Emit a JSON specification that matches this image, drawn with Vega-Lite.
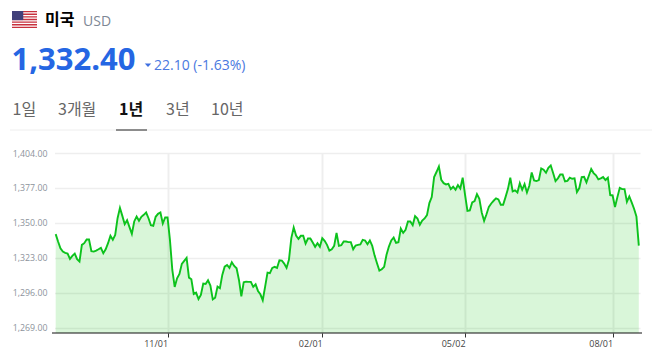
{"$schema":"https://vega.github.io/schema/vega-lite/v6.json","width":590,"height":180,"autosize":"none","padding":{"left":52,"top":153,"right":10,"bottom":22},"background":"white","config":{"view":{"stroke":null}},
"data":{"values":[
{"d":"2023-08-21","v":1341.3},{"d":"2023-08-22","v":1335.6},{"d":"2023-08-23","v":1330.4},{"d":"2023-08-24","v":1327.8},{"d":"2023-08-25","v":1326.8},{"d":"2023-08-28","v":1326.3},{"d":"2023-08-29","v":1322.2},{"d":"2023-08-30","v":1324.5},{"d":"2023-08-31","v":1326.3},{"d":"2023-09-01","v":1321.9},
{"d":"2023-09-04","v":1320.1},{"d":"2023-09-05","v":1333.0},{"d":"2023-09-06","v":1334.3},{"d":"2023-09-07","v":1337.1},{"d":"2023-09-08","v":1337.1},{"d":"2023-09-11","v":1328.1},{"d":"2023-09-12","v":1327.8},{"d":"2023-09-13","v":1328.6},{"d":"2023-09-14","v":1329.6},{"d":"2023-09-15","v":1330.7},
{"d":"2023-09-18","v":1326.5},{"d":"2023-09-19","v":1329.6},{"d":"2023-09-20","v":1334.3},{"d":"2023-09-21","v":1340.0},{"d":"2023-09-22","v":1336.9},{"d":"2023-09-25","v":1340.7},{"d":"2023-09-26","v":1353.6},{"d":"2023-09-27","v":1361.6},{"d":"2023-10-04","v":1355.4},{"d":"2023-10-05","v":1349.0},
{"d":"2023-10-06","v":1352.1},{"d":"2023-10-10","v":1346.7},{"d":"2023-10-11","v":1341.5},{"d":"2023-10-12","v":1351.1},{"d":"2023-10-13","v":1354.9},{"d":"2023-10-16","v":1351.6},{"d":"2023-10-17","v":1354.7},{"d":"2023-10-18","v":1356.2},{"d":"2023-10-19","v":1358.0},{"d":"2023-10-20","v":1353.6},
{"d":"2023-10-23","v":1348.2},{"d":"2023-10-24","v":1347.7},{"d":"2023-10-25","v":1354.7},{"d":"2023-10-26","v":1357.0},{"d":"2023-10-27","v":1358.0},{"d":"2023-10-30","v":1349.5},{"d":"2023-10-31","v":1354.2},{"d":"2023-11-01","v":1354.2},{"d":"2023-11-02","v":1336.9},{"d":"2023-11-03","v":1313.6},
{"d":"2023-11-06","v":1300.5},{"d":"2023-11-07","v":1307.2},{"d":"2023-11-08","v":1310.5},{"d":"2023-11-09","v":1318.3},{"d":"2023-11-10","v":1320.6},{"d":"2023-11-13","v":1322.9},{"d":"2023-11-14","v":1307.7},{"d":"2023-11-15","v":1306.4},{"d":"2023-11-16","v":1295.1},{"d":"2023-11-17","v":1296.1},
{"d":"2023-11-20","v":1291.2},{"d":"2023-11-21","v":1294.3},{"d":"2023-11-22","v":1303.1},{"d":"2023-11-23","v":1302.8},{"d":"2023-11-24","v":1305.6},{"d":"2023-11-27","v":1301.5},{"d":"2023-11-28","v":1290.9},{"d":"2023-11-29","v":1292.2},{"d":"2023-11-30","v":1300.7},{"d":"2023-12-01","v":1299.5},
{"d":"2023-12-04","v":1309.8},{"d":"2023-12-05","v":1316.2},{"d":"2023-12-06","v":1317.5},{"d":"2023-12-07","v":1315.2},{"d":"2023-12-08","v":1319.6},{"d":"2023-12-11","v":1316.7},{"d":"2023-12-12","v":1314.9},{"d":"2023-12-13","v":1305.9},{"d":"2023-12-14","v":1293.3},{"d":"2023-12-15","v":1304.1},
{"d":"2023-12-18","v":1304.6},{"d":"2023-12-19","v":1304.4},{"d":"2023-12-20","v":1304.4},{"d":"2023-12-21","v":1300.5},{"d":"2023-12-22","v":1302.5},{"d":"2023-12-26","v":1297.4},{"d":"2023-12-27","v":1294.8},{"d":"2023-12-28","v":1290.2},{"d":"2023-12-29","v":1300.7},{"d":"2024-01-01","v":1311.6},
{"d":"2024-01-02","v":1311.1},{"d":"2024-01-03","v":1315.2},{"d":"2024-01-04","v":1316.0},{"d":"2024-01-05","v":1315.2},{"d":"2024-01-08","v":1321.1},{"d":"2024-01-09","v":1320.9},{"d":"2024-01-10","v":1318.5},{"d":"2024-01-11","v":1315.2},{"d":"2024-01-12","v":1321.4},{"d":"2024-01-15","v":1338.2},
{"d":"2024-01-16","v":1346.4},{"d":"2024-01-17","v":1340.2},{"d":"2024-01-18","v":1337.6},{"d":"2024-01-19","v":1340.0},{"d":"2024-01-22","v":1340.0},{"d":"2024-01-23","v":1334.0},{"d":"2024-01-24","v":1337.9},{"d":"2024-01-25","v":1337.9},{"d":"2024-01-26","v":1334.8},{"d":"2024-01-29","v":1331.5},
{"d":"2024-01-30","v":1334.3},{"d":"2024-01-31","v":1331.5},{"d":"2024-02-01","v":1338.2},{"d":"2024-02-02","v":1336.1},{"d":"2024-02-05","v":1333.0},{"d":"2024-02-06","v":1328.6},{"d":"2024-02-07","v":1329.6},{"d":"2024-02-08","v":1332.2},{"d":"2024-02-13","v":1342.3},{"d":"2024-02-14","v":1332.2},
{"d":"2024-02-15","v":1332.7},{"d":"2024-02-16","v":1335.6},{"d":"2024-02-19","v":1335.6},{"d":"2024-02-20","v":1335.1},{"d":"2024-02-21","v":1335.1},{"d":"2024-02-22","v":1329.6},{"d":"2024-02-23","v":1332.5},{"d":"2024-02-26","v":1333.0},{"d":"2024-02-27","v":1333.3},{"d":"2024-02-28","v":1336.9},
{"d":"2024-02-29","v":1336.4},{"d":"2024-03-04","v":1333.5},{"d":"2024-03-05","v":1336.4},{"d":"2024-03-06","v":1332.2},{"d":"2024-03-07","v":1324.7},{"d":"2024-03-08","v":1318.8},{"d":"2024-03-11","v":1313.1},{"d":"2024-03-12","v":1314.2},{"d":"2024-03-13","v":1316.0},{"d":"2024-03-14","v":1325.3},
{"d":"2024-03-15","v":1331.7},{"d":"2024-03-18","v":1336.4},{"d":"2024-03-19","v":1338.7},{"d":"2024-03-20","v":1334.5},{"d":"2024-03-21","v":1335.1},{"d":"2024-03-22","v":1345.6},{"d":"2024-03-25","v":1342.3},{"d":"2024-03-26","v":1344.6},{"d":"2024-03-27","v":1351.1},{"d":"2024-03-28","v":1351.1},
{"d":"2024-03-29","v":1348.2},{"d":"2024-04-01","v":1355.2},{"d":"2024-04-02","v":1353.4},{"d":"2024-04-03","v":1348.5},{"d":"2024-04-04","v":1351.8},{"d":"2024-04-05","v":1353.4},{"d":"2024-04-08","v":1356.0},{"d":"2024-04-09","v":1365.3},{"d":"2024-04-11","v":1369.9},{"d":"2024-04-12","v":1385.4},
{"d":"2024-04-15","v":1389.3},{"d":"2024-04-16","v":1393.6},{"d":"2024-04-17","v":1383.3},{"d":"2024-04-18","v":1380.7},{"d":"2024-04-19","v":1379.7},{"d":"2024-04-22","v":1380.2},{"d":"2024-04-23","v":1376.1},{"d":"2024-04-24","v":1377.9},{"d":"2024-04-25","v":1375.6},{"d":"2024-04-26","v":1379.2},
{"d":"2024-04-29","v":1376.6},{"d":"2024-04-30","v":1384.9},{"d":"2024-05-02","v":1371.7},{"d":"2024-05-03","v":1359.3},{"d":"2024-05-07","v":1359.6},{"d":"2024-05-08","v":1365.8},{"d":"2024-05-09","v":1366.8},{"d":"2024-05-10","v":1372.2},{"d":"2024-05-13","v":1368.6},{"d":"2024-05-14","v":1358.0},
{"d":"2024-05-16","v":1351.6},{"d":"2024-05-17","v":1356.7},{"d":"2024-05-20","v":1362.4},{"d":"2024-05-21","v":1365.0},{"d":"2024-05-22","v":1367.1},{"d":"2024-05-23","v":1368.9},{"d":"2024-05-24","v":1368.1},{"d":"2024-05-27","v":1364.0},{"d":"2024-05-28","v":1364.0},{"d":"2024-05-29","v":1369.9},
{"d":"2024-05-30","v":1376.1},{"d":"2024-05-31","v":1384.9},{"d":"2024-06-03","v":1374.3},{"d":"2024-06-04","v":1375.1},{"d":"2024-06-05","v":1373.5},{"d":"2024-06-07","v":1380.7},{"d":"2024-06-10","v":1375.6},{"d":"2024-06-11","v":1380.0},{"d":"2024-06-12","v":1373.5},{"d":"2024-06-13","v":1378.7},
{"d":"2024-06-14","v":1389.0},{"d":"2024-06-17","v":1382.8},{"d":"2024-06-18","v":1382.3},{"d":"2024-06-19","v":1383.1},{"d":"2024-06-20","v":1392.1},{"d":"2024-06-21","v":1391.1},{"d":"2024-06-24","v":1388.7},{"d":"2024-06-25","v":1392.6},{"d":"2024-06-26","v":1394.4},{"d":"2024-06-27","v":1388.5},
{"d":"2024-06-28","v":1382.3},{"d":"2024-07-01","v":1384.4},{"d":"2024-07-02","v":1387.4},{"d":"2024-07-03","v":1387.4},{"d":"2024-07-04","v":1382.0},{"d":"2024-07-05","v":1382.5},{"d":"2024-07-08","v":1384.9},{"d":"2024-07-09","v":1384.1},{"d":"2024-07-10","v":1384.4},{"d":"2024-07-11","v":1373.8},
{"d":"2024-07-12","v":1376.9},{"d":"2024-07-15","v":1385.4},{"d":"2024-07-16","v":1385.6},{"d":"2024-07-17","v":1381.3},{"d":"2024-07-18","v":1386.4},{"d":"2024-07-19","v":1391.6},{"d":"2024-07-22","v":1388.5},{"d":"2024-07-23","v":1386.7},{"d":"2024-07-24","v":1383.6},{"d":"2024-07-25","v":1384.4},
{"d":"2024-07-26","v":1385.4},{"d":"2024-07-29","v":1383.1},{"d":"2024-07-30","v":1384.9},{"d":"2024-07-31","v":1371.5},{"d":"2024-08-01","v":1371.2},{"d":"2024-08-02","v":1362.2},{"d":"2024-08-05","v":1369.9},{"d":"2024-08-06","v":1377.1},{"d":"2024-08-07","v":1376.1},{"d":"2024-08-08","v":1376.1},
{"d":"2024-08-09","v":1366.3},{"d":"2024-08-12","v":1370.4},{"d":"2024-08-13","v":1365.8},{"d":"2024-08-14","v":1360.9},{"d":"2024-08-15","v":1354.9},{"d":"2024-08-16","v":1332.4}
]},
"encoding":{
"x":{"field":"d","type":"ordinal","title":null,"sort":null,"scale":{"type":"point","range":[2.5,588]},
"axis":{"values":["2023-11-01","2024-02-01","2024-05-02","2024-08-01"],"labelExpr":"substring(datum.value,5,7)+'/'+substring(datum.value,8,10)","labelAngle":0,"labelAlign":"right","labelBaseline":"top","labelFont":"Open Sans","labelFontSize":9,"labelColor":"#444444","labelPadding":2,"tickSize":4,"tickColor":"#333333","tickWidth":1,"domain":false,"grid":true,"gridColor":"#eeeeee","gridWidth":2,"labelOverlap":false,"labelBound":false}},
"y":{"field":"v","type":"quantitative","title":null,"scale":{"domain":[1264.9,1404],"nice":false,"zero":false},
"axis":{"values":[1269,1296,1323,1350,1377,1404],"format":",.2f","labelFont":"Open Sans","labelFontSize":8.8,"labelColor":"#8d939c","labelPadding":5,"ticks":false,"domain":false,"grid":true,"gridColor":"#eeeeee","gridWidth":1.5,"labelOverlap":false,"labelBound":false}}
},
"layer":[
{"encoding":{"y2":{"datum":1264.9}},"mark":{"type":"area","color":"#00c400","opacity":0.15}},
{"mark":{"type":"line","color":"#0cc21c","strokeWidth":1.9}},
{"data":{"values":[{}]},"encoding":{"x":{"value":0},"x2":{"value":590},"y":{"value":180}},"mark":{"type":"rule","color":"#111111","strokeWidth":1}},
{"data":{"values":[{}]},"encoding":{"x":{"value":-42},"x2":{"value":600},"y":{"value":-23}},"mark":{"type":"rule","color":"#eeeeee","strokeWidth":1}},
{"data":{"values":[{}]},"encoding":{"x":{"value":64},"x2":{"value":95},"y":{"value":-23}},"mark":{"type":"rule","color":"#222222","strokeWidth":1}},
{"data":{"values":[{}]},"encoding":{"x":null,"y":null},"mark":{"type":"point","filled":true,"x":-27.5,"y":-133.5,"size":625,"opacity":1,"color":"#c8313e","strokeWidth":0,"shape":"M-1,-.68H1V-.575H-1ZM-1,-.471H1V-.366H-1ZM-1,-.262H1V-.157H-1ZM-1,-.052H1V.052H-1ZM-1,.157H1V.262H-1ZM-1,.366H1V.471H-1ZM-1,.575H1V.68H-1Z"}},
{"data":{"values":[{}]},"encoding":{"x":null,"y":null},"mark":{"type":"point","filled":true,"x":-27.5,"y":-133.5,"size":625,"opacity":1,"color":"#41407a","strokeWidth":0,"shape":"M-1,-.68H-.1V.05H-1Z"}},
{"data":{"values":[{}]},"encoding":{"x":null,"y":null},"mark":{"type":"text","text":"미국","x":-7,"y":-128,"align":"left","baseline":"alphabetic","font":"Noto Sans CJK KR","fontWeight":"bold","fontSize":16,"color":"#000000"}},
{"data":{"values":[{}]},"encoding":{"x":null,"y":null},"mark":{"type":"text","text":"USD","x":31,"y":-127.5,"align":"left","baseline":"alphabetic","font":"Open Sans","fontSize":14,"color":"#7d8795"}},
{"data":{"values":[{}]},"encoding":{"x":null,"y":null},"mark":{"type":"text","text":"1,332.40","x":-40.5,"y":-83,"align":"left","baseline":"alphabetic","font":"Open Sans","fontWeight":"bold","fontSize":31,"color":"#2566e3"}},
{"data":{"values":[{}]},"encoding":{"x":null,"y":null},"mark":{"type":"point","filled":true,"x":96,"y":-88,"size":42,"opacity":1,"color":"#3f6fe0","strokeWidth":0,"shape":"M-1,-.5H1L0,.6Z"}},
{"data":{"values":[{}]},"encoding":{"x":null,"y":null},"mark":{"type":"text","text":"22.10 (-1.63%)","x":102,"y":-83,"align":"left","baseline":"alphabetic","font":"Open Sans","fontSize":14,"color":"#4a78e0"}},
{"data":{"values":[{}]},"encoding":{"x":null,"y":null},"mark":{"type":"text","text":"1일","x":-39.5,"y":-38,"align":"left","baseline":"alphabetic","font":"Noto Sans CJK KR","fontSize":16,"color":"#666666"}},
{"data":{"values":[{}]},"encoding":{"x":null,"y":null},"mark":{"type":"text","text":"3개월","x":6,"y":-38,"align":"left","baseline":"alphabetic","font":"Noto Sans CJK KR","fontSize":16,"color":"#666666"}},
{"data":{"values":[{}]},"encoding":{"x":null,"y":null},"mark":{"type":"text","text":"1년","x":67,"y":-38,"align":"left","baseline":"alphabetic","font":"Noto Sans CJK KR","fontWeight":"bold","fontSize":16,"color":"#111111"}},
{"data":{"values":[{}]},"encoding":{"x":null,"y":null},"mark":{"type":"text","text":"3년","x":114,"y":-38,"align":"left","baseline":"alphabetic","font":"Noto Sans CJK KR","fontSize":16,"color":"#666666"}},
{"data":{"values":[{}]},"encoding":{"x":null,"y":null},"mark":{"type":"text","text":"10년","x":159,"y":-38,"align":"left","baseline":"alphabetic","font":"Noto Sans CJK KR","fontSize":16,"color":"#666666"}}
]}
